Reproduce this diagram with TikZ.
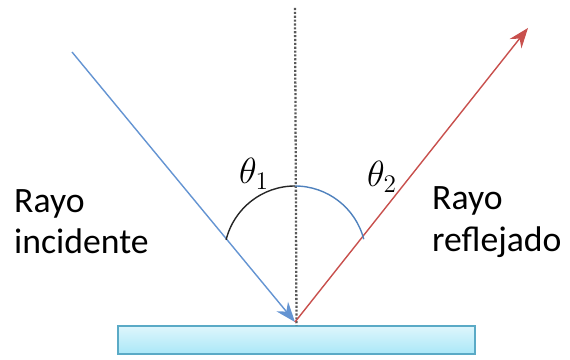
\documentclass[tikz,border=0pt]{standalone}
\usepackage{fontspec}
\setmainfont{Carlito}
\usetikzlibrary{arrows.meta}
\definecolor{rayblue}{RGB}{100,148,210}
\definecolor{rayred}{RGB}{200,80,77}
\definecolor{arcblue}{RGB}{79,129,189}
\definecolor{mirrortop}{RGB}{222,246,252}
\definecolor{mirrorbot}{RGB}{170,232,248}
\definecolor{mirroredge}{RGB}{90,170,198}
\begin{document}
\begin{tikzpicture}[>={Stealth[length=4mm,width=3mm]}, every node/.style={font=\fontsize{20.3}{23.5}\selectfont}]
  \useasboundingbox (0,0) rectangle (11.4,7.2);
  % espejo
  \node[draw=mirroredge, line width=0.8pt, top color=mirrortop, bottom color=mirrorbot,
        minimum width=7.14cm, minimum height=0.56cm, inner sep=0pt] (espejo) at (5.93,0.40) {};
  \coordinate (P) at (5.90,0.76);
  \coordinate (A) at (1.44,6.16);
  \coordinate (B) at (10.56,6.64);
  \coordinate (N) at (5.90,7.04);
  % normal
  \draw[dash pattern=on 1.2pt off 1pt, line width=1.3pt, black!65] (N) -- (espejo.north);
  % rayos
  \draw[->, rayblue, line width=0.8pt] (A) -- (P);
  \draw[->, rayred, line width=0.8pt] (P) -- (B);
  % angulos
  \draw[black!85, line width=0.8pt] (5.90,2.06) ++(166:1.42) arc (166:90:1.42);
  \draw[arcblue, line width=0.8pt] (5.90,2.06) ++(90:1.42) arc (90:14.5:1.42);
  \node (t1) at (5.08,3.72) {\fontsize{22}{24}\selectfont$\theta_1$};
  \node (t2) at (7.64,3.66) {\fontsize{22}{24}\selectfont$\theta_2$};
  % textos
  \node[anchor=west, align=left] (inc) at (0.16,2.76) {Rayo\\incidente};
  \node[anchor=west, align=left] (ref) at (8.52,2.76) {Rayo\\reflejado};
\end{tikzpicture}
\end{document}
